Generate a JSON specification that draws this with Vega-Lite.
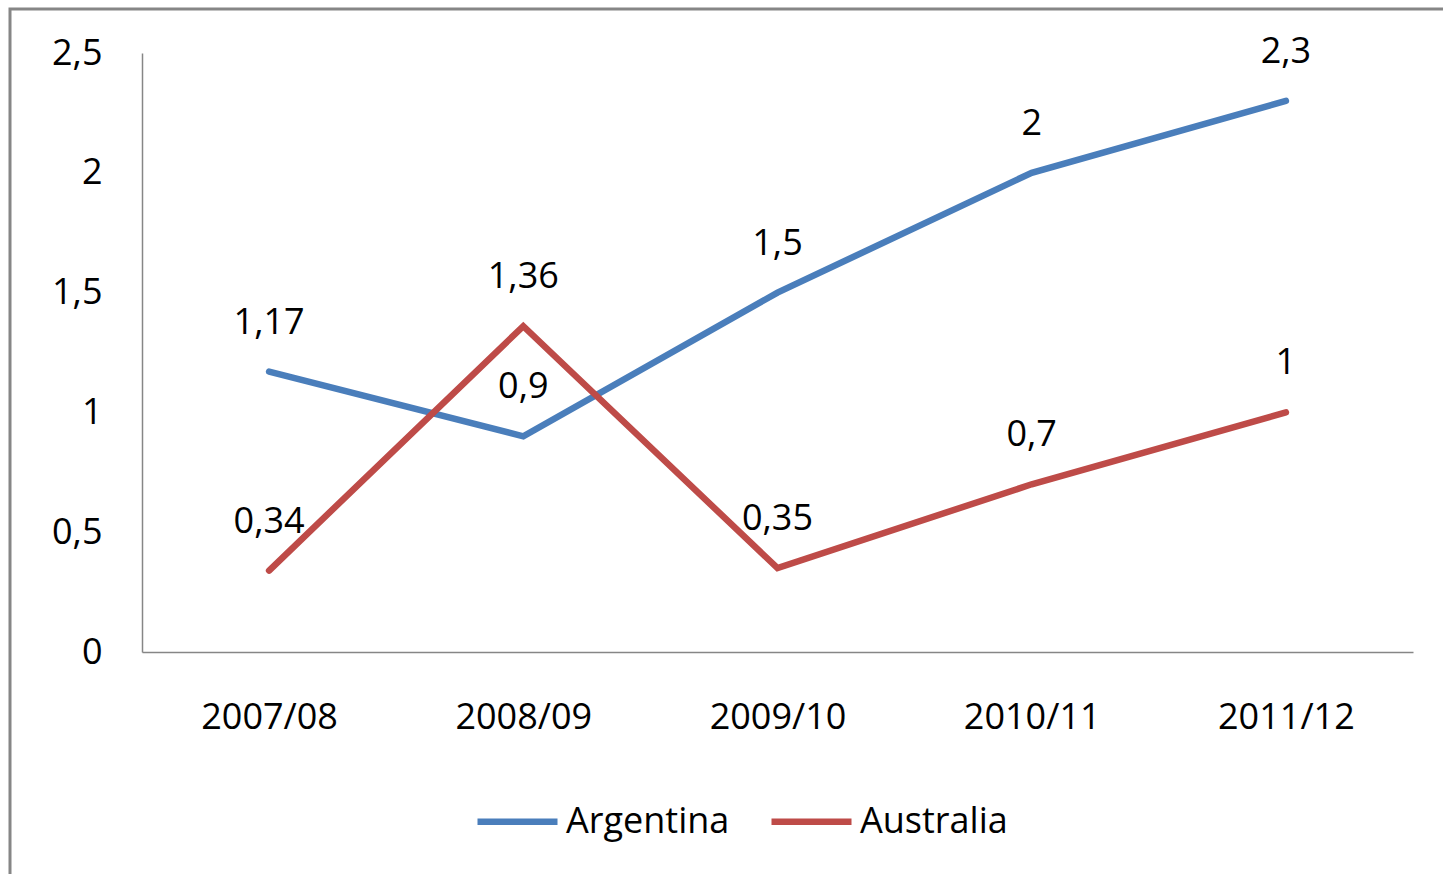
{
  "$schema": "https://vega.github.io/schema/vega-lite/v6.json",
  "width": 1436,
  "height": 868,
  "autosize": {"type": "none"},
  "padding": {"left": 10, "top": 9, "right": 0, "bottom": 0},
  "background": "white",
  "config": {
    "font": "Open Sans",
    "locale": {"number": {"decimal": ",", "thousands": ".", "grouping": [3], "currency": ["", " €"]}},
    "view": {"stroke": "#868686", "strokeWidth": 3},
    "axis": {
      "grid": false,
      "ticks": false,
      "tickSize": 0,
      "title": null,
      "domainColor": "#868686",
      "domainWidth": 1.5,
      "labelFontSize": 36,
      "labelColor": "#000000",
      "labelFont": "Open Sans"
    },
    "legend": {
      "labelFont": "Open Sans"
    }
  },
  "data": {
    "values": [
      {"year": "2007/08", "country": "Argentina", "value": 1.17},
      {"year": "2008/09", "country": "Argentina", "value": 0.9},
      {"year": "2009/10", "country": "Argentina", "value": 1.5},
      {"year": "2010/11", "country": "Argentina", "value": 2},
      {"year": "2011/12", "country": "Argentina", "value": 2.3},
      {"year": "2007/08", "country": "Australia", "value": 0.34},
      {"year": "2008/09", "country": "Australia", "value": 1.36},
      {"year": "2009/10", "country": "Australia", "value": 0.35},
      {"year": "2010/11", "country": "Australia", "value": 0.7},
      {"year": "2011/12", "country": "Australia", "value": 1}
    ]
  },
  "encoding": {
    "x": {
      "field": "year",
      "type": "ordinal",
      "scale": {"type": "point", "range": [132, 1403], "padding": 0.5},
      "axis": {"orient": "bottom", "offset": -225, "labelAngle": 0, "labelPadding": 48}
    },
    "y": {
      "field": "value",
      "type": "quantitative",
      "scale": {"domain": [0, 2.5], "range": [643, 44], "nice": false, "zero": true},
      "axis": {"orient": "left", "offset": -132, "labelPadding": 40, "values": [0, 0.5, 1, 1.5, 2, 2.5], "format": ".1~f"}
    }
  },
  "layer": [
    {
      "mark": {"type": "line", "strokeWidth": 6.5, "strokeCap": "round", "strokeJoin": "miter"},
      "encoding": {
        "color": {
          "field": "country",
          "type": "nominal",
          "scale": {"domain": ["Argentina", "Australia"], "range": ["#4A7EBB", "#BE4B48"]},
          "legend": {
            "orient": "none",
            "legendX": 464,
            "legendY": 769,
            "direction": "horizontal",
            "title": null,
            "labelFontSize": 36,
            "labelColor": "#000000",
            "labelLimit": 0,
            "symbolType": "stroke",
            "symbolSize": 6400,
            "symbolStrokeWidth": 6.5,
            "labelOffset": 5,
            "columnPadding": 28,
            "padding": 0
          }
        }
      }
    },
    {
      "mark": {"type": "text", "dy": -49, "fontSize": 36, "baseline": "middle", "align": "center", "color": "#000000"},
      "encoding": {
        "text": {"field": "value", "type": "quantitative", "format": ".2~f"},
        "detail": {"field": "country", "type": "nominal"}
      }
    }
  ]
}
